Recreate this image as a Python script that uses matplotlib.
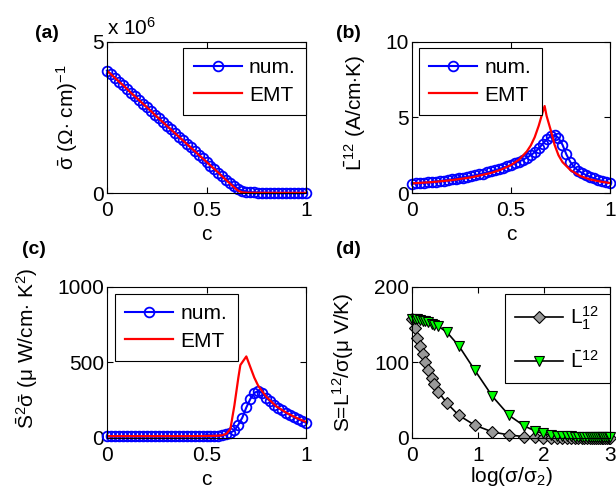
import matplotlib
matplotlib.use("Agg")
import matplotlib.pyplot as plt
import numpy as np

plt.rcParams['font.family'] = ['Liberation Sans', 'DejaVu Sans']
plt.rcParams['mathtext.fontset'] = 'custom'
plt.rcParams['mathtext.rm'] = 'Liberation Sans'
plt.rcParams['mathtext.it'] = 'Liberation Sans'
plt.rcParams['mathtext.bf'] = 'Liberation Sans:bold'

# concentration grid of the numerical points
c_num = np.linspace(0, 1, 51)

# (a) conductivity, units of 1e6 (Ohm cm)^-1
sig_num = [4.05, 3.93, 3.81, 3.69, 3.57, 3.45, 3.32, 3.20, 3.08, 2.96,
           2.84, 2.72, 2.59, 2.47, 2.35, 2.23, 2.11, 1.99, 1.87, 1.75,
           1.63, 1.51, 1.39, 1.27, 1.15, 1.03, 0.91, 0.79, 0.67, 0.55,
           0.44, 0.33, 0.23, 0.14, 0.08, 0.045, 0.03, 0.02, 0.015, 0.012,
           0.010, 0.009, 0.008, 0.008, 0.007, 0.007, 0.006, 0.006, 0.005, 0.005, 0.005]
sig_emt = [4.05, 3.93, 3.81, 3.69, 3.57, 3.45, 3.32, 3.20, 3.08, 2.96,
           2.84, 2.72, 2.59, 2.47, 2.35, 2.23, 2.11, 1.99, 1.87, 1.75,
           1.63, 1.51, 1.39, 1.27, 1.15, 1.03, 0.91, 0.79, 0.67, 0.54,
           0.42, 0.30, 0.18, 0.07, 0.02, 0.010, 0.008, 0.007, 0.006, 0.006,
           0.005, 0.005, 0.005, 0.004, 0.004, 0.004, 0.004, 0.004, 0.004, 0.004, 0.004]

# (b) L12
L_num = [0.62, 0.64, 0.66, 0.68, 0.70, 0.73, 0.76, 0.79, 0.82, 0.86,
         0.90, 0.94, 0.98, 1.02, 1.07, 1.12, 1.17, 1.23, 1.29, 1.36,
         1.43, 1.50, 1.58, 1.67, 1.76, 1.86, 1.97, 2.08, 2.20, 2.34,
         2.50, 2.70, 2.95, 3.25, 3.55, 3.75, 3.84, 3.65, 3.20, 2.55,
         2.05, 1.70, 1.48, 1.32, 1.18, 1.07, 0.97, 0.88, 0.80, 0.72, 0.65]
c_emt_b = [0, 0.1, 0.2, 0.3, 0.4, 0.45, 0.5, 0.54, 0.58, 0.6, 0.62, 0.64,
           0.66, 0.67, 0.68, 0.7, 0.72, 0.74, 0.76, 0.8, 0.85, 0.9, 0.95, 1.0]
L_emt = [0.64, 0.72, 0.85, 1.04, 1.33, 1.55, 1.85, 2.2, 2.75, 3.15, 3.7, 4.45,
         5.35, 5.76, 5.1, 4.2, 3.2, 2.5, 2.05, 1.52, 1.12, 0.9, 0.76, 0.66]

# (c) power factor
P_num = [10, 10, 10, 10, 10, 10, 10, 10, 10, 10,
         10, 10, 10, 10, 10, 10, 10, 10, 10, 10,
         10, 11, 11, 11, 11, 12, 13, 14, 15, 18,
         24, 35, 50, 88, 135, 202, 258, 298, 312, 298,
         268, 242, 220, 200, 183, 167, 152, 138, 125, 112, 100]
c_emt_c = [0, 0.2, 0.4, 0.5, 0.56, 0.58, 0.6, 0.62, 0.64, 0.66, 0.67,
           0.7, 0.72, 0.74, 0.76, 0.8, 0.85, 0.9, 0.95, 1.0]
P_emt = [12, 12, 12, 13, 15, 18, 28, 60, 215, 400, 483,
         540, 470, 400, 345, 273, 210, 168, 134, 106]

# (d) Seebeck vs log(sigma/sigma2)
logr = [0, 0.04, 0.08, 0.12, 0.16, 0.2, 0.25, 0.3, 0.34, 0.4, 0.53, 0.71,
        0.95, 1.22, 1.47, 1.70, 1.86, 1.98, 2.1, 2.2, 2.28, 2.35, 2.41,
        2.47, 2.52, 2.57, 2.61, 2.65, 2.69, 2.73, 2.76, 2.79, 2.82, 2.85,
        2.88, 2.9, 2.93, 2.95, 2.98, 3.0]
S_L1 = [157, 145, 133, 122, 111, 101, 90, 79, 71, 61, 46, 30,
        17, 8, 4, 1.8, 0.9, 0.6, 0.4, 0.3, 0.3, 0.3, 0.2,
        0.2, 0.2, 0.2, 0.2, 0.2, 0.2, 0.2, 0.2, 0.2, 0.2, 0.2,
        0.2, 0.2, 0.2, 0.2, 0.2, 0.2]
S_Lbar = [158, 157.5, 157, 156, 155.5, 154.5, 153, 151.5, 150, 148, 140, 122,
          90, 55, 30, 16, 9.5, 6, 4, 3, 2.6, 2.2, 2.0,
          1.8, 1.6, 1.5, 1.4, 1.3, 1.2, 1.1, 1.0, 1.0, 0.9, 0.9,
          0.8, 0.8, 0.8, 0.7, 0.7, 0.7]

FS = 15
fig = plt.figure(figsize=(6.16, 4.94), dpi=100)
axa = fig.add_axes([0.1737, 0.6093, 0.3231, 0.3057])
axb = fig.add_axes([0.6688, 0.6093, 0.3214, 0.3057])
axc = fig.add_axes([0.1737, 0.1134, 0.3231, 0.3057])
axd = fig.add_axes([0.6688, 0.1134, 0.3214, 0.3057])

num_kw = dict(color='blue', marker='o', mfc='none', mec='blue', ms=7, mew=1.3, lw=1.5,
              label='num.', clip_on=False)
emt_kw = dict(color='red', lw=1.6, label='EMT')

axa.plot(c_num, sig_num, **num_kw)
axa.plot(c_num, sig_emt, **emt_kw)
axa.set_ylim(0, 5)
axa.set_yticks([0, 5])
axa.text(0.0, 1.02, r'x 10$^{6}$', transform=axa.transAxes, fontsize=FS, ha='left', va='bottom')
axa.set_ylabel(r'$\bar{\sigma}$ ($\Omega$$\cdot$ cm)$^{-1}$', fontsize=FS)

axb.plot(c_num, L_num, **num_kw)
axb.plot(c_emt_b, L_emt, **emt_kw)
axb.set_ylim(0, 10)
axb.set_yticks([0, 5, 10])
axb.set_ylabel(r'$\bar{\mathrm{L}}^{12}$ (A/cm$\cdot$K)', fontsize=FS)

axc.plot(c_num, P_num, **num_kw)
axc.plot(c_emt_c, P_emt, **emt_kw)
axc.set_ylim(0, 1000)
axc.set_yticks([0, 500, 1000])
axc.set_ylabel(r'$\bar{\mathrm{S}}^2\bar{\sigma}$ ($\mu$ W/cm$\cdot$ K$^2$)', fontsize=FS)

for ax in (axa, axb, axc):
    ax.set_xlim(0, 1)
    ax.set_xticks([0, 0.5, 1])
    ax.set_xticklabels(['0', '0.5', '1'])
    ax.set_xlabel('c', fontsize=FS)

axd.plot(logr, S_L1, color='black', lw=1.2, marker='D', mfc=(0.6, 0.6, 0.6), mec='black',
         ms=6, mew=0.8, label=r'L$_1^{12}$', clip_on=False)
axd.plot(logr, S_Lbar, color='black', lw=1.2, marker='v', mfc=(0, 1, 0), mec='black',
         ms=7, mew=0.8, label=r'$\bar{\mathrm{L}}^{12}$', clip_on=False)
axd.set_xlim(0, 3)
axd.set_ylim(0, 200)
axd.set_xticks([0, 1, 2, 3])
axd.set_yticks([0, 100, 200])
axd.set_xlabel(r'log($\sigma$/$\sigma_2$)', fontsize=FS)
axd.set_ylabel(r'S=L$^{12}$/$\sigma$($\mu$ V/K)', fontsize=FS)

for ax in (axa, axb, axc, axd):
    ax.tick_params(direction='in', top=True, right=True, labelsize=FS, length=4, width=0.8)
    ax.tick_params(axis='x', pad=6)
    ax.tick_params(axis='y', pad=2)
    for s in ax.spines.values():
        s.set_linewidth(0.8)

axa.yaxis.set_label_coords(-0.136, 0.5)
axb.yaxis.set_label_coords(-0.222, 0.53)
axc.yaxis.set_label_coords(-0.337, 0.596)
axd.yaxis.set_label_coords(-0.283, 0.5)
for ax in (axa, axb, axc):
    ax.xaxis.set_label_coords(0.5, -0.215)
axd.xaxis.set_label_coords(0.5, -0.18)

leg_kw = dict(fontsize=FS, fancybox=False, framealpha=1, edgecolor='black',
              borderaxespad=0, handlelength=2.3, handletextpad=0.35, borderpad=0.5,
              labelspacing=0.4)
la = axa.legend(loc='upper right', bbox_to_anchor=(1.0, 0.96), **leg_kw)
lb = axb.legend(loc='upper left', bbox_to_anchor=(0.035, 0.96), **leg_kw)
lc = axc.legend(loc='upper left', bbox_to_anchor=(0.04, 0.954), **leg_kw)
ld = axd.legend(loc='upper right', bbox_to_anchor=(1.0, 0.954), **dict(leg_kw, labelspacing=0.9))
for lg in (la, lb, lc, ld):
    lg.get_frame().set_linewidth(0.8)

for lab, x, y in [('(a)', 35, 34), ('(b)', 336, 34), ('(c)', 22, 249), ('(d)', 336, 249)]:
    fig.text(x / 616, 1 - y / 494, lab, fontsize=14, fontweight='bold', ha='left', va='center')

fig.savefig('out.png', dpi=100)
